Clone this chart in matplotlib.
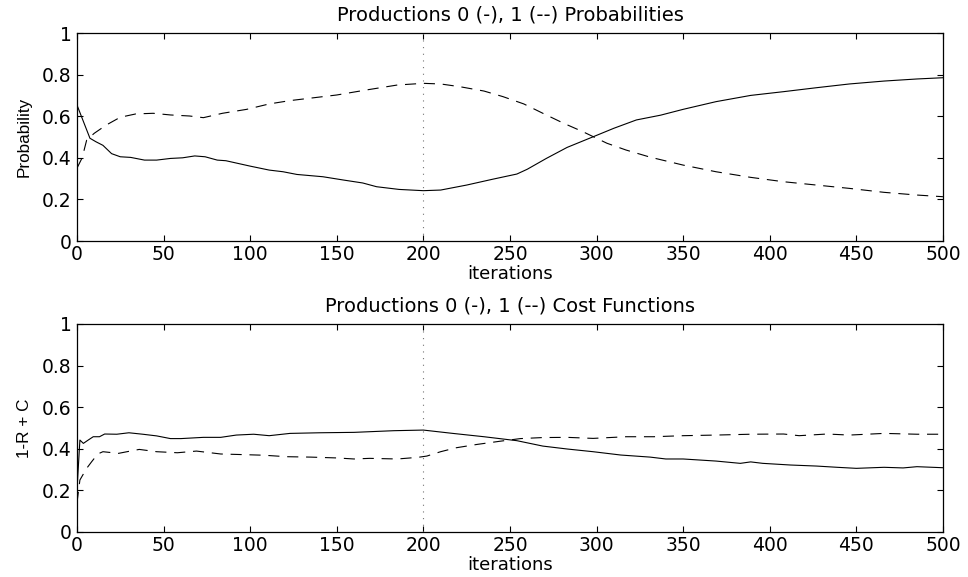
import numpy as np
import matplotlib
matplotlib.use("Agg")
import matplotlib.pyplot as plt
from matplotlib.ticker import FuncFormatter

# olasiliklar (ust grafik)
it_p0 = [0, 3, 7.5, 11, 15, 20, 25, 31, 39, 46, 54, 61, 68, 74, 81, 86, 100, 111, 119, 127,
         142, 154, 165, 173, 186, 200, 210, 225, 240, 254, 260, 271, 283, 298, 310, 323, 337,
         350, 369, 389, 408, 427, 446, 466, 485, 500]
p0 = [0.654, 0.59, 0.494, 0.477, 0.46, 0.42, 0.405, 0.402, 0.389, 0.389, 0.397, 0.40, 0.409,
      0.405, 0.389, 0.386, 0.36, 0.341, 0.333, 0.32, 0.309, 0.293, 0.279, 0.261, 0.248, 0.242,
      0.245, 0.269, 0.297, 0.322, 0.345, 0.397, 0.45, 0.501, 0.542, 0.582, 0.605, 0.633, 0.67,
      0.70, 0.718, 0.737, 0.755, 0.769, 0.779, 0.785]

it_p1 = [0, 3, 5.6, 10, 17, 25, 34, 44, 54, 65, 73, 84, 98, 111, 123, 134, 150, 167, 185, 200,
         210, 221, 235, 246, 258, 269, 281, 292, 306, 317, 331, 350, 369, 389, 408, 427, 446,
         466, 485, 500]
p1 = [0.35, 0.40, 0.485, 0.518, 0.558, 0.595, 0.611, 0.614, 0.606, 0.601, 0.593, 0.614, 0.633,
      0.659, 0.675, 0.686, 0.702, 0.726, 0.75, 0.758, 0.755, 0.742, 0.721, 0.694, 0.659, 0.614,
      0.566, 0.526, 0.47, 0.4375, 0.403, 0.365, 0.333, 0.306, 0.285, 0.269, 0.253, 0.234,
      0.221, 0.213]

# maliyet fonksiyonlari (alt grafik)
it_c0 = [0, 1.7, 3.7, 6.5, 9.4, 13, 16, 23, 30, 38, 46, 54, 60, 73, 83, 92, 102, 111, 123, 140,
         160, 183, 200, 217, 235, 254, 269, 283, 298, 314, 331, 340, 350, 369, 383, 389, 396,
         412, 427, 439, 450, 466, 477, 485, 500]
c0 = [0.20, 0.442, 0.426, 0.442, 0.458, 0.458, 0.471, 0.47, 0.477, 0.47, 0.462, 0.449, 0.449,
      0.455, 0.455, 0.466, 0.47, 0.463, 0.474, 0.477, 0.479, 0.487, 0.49, 0.474, 0.458, 0.439,
      0.413, 0.399, 0.386, 0.37, 0.36, 0.351, 0.351, 0.341, 0.33, 0.337, 0.33, 0.322, 0.317,
      0.311, 0.306, 0.311, 0.308, 0.314, 0.309]

it_c1 = [0, 1.7, 5.6, 8.5, 12, 15, 24, 32, 36, 46, 58, 69, 83, 96, 108, 121, 135, 150, 160, 169,
         185, 197, 202, 210, 219, 231, 244, 256, 269, 283, 298, 317, 333, 350, 369, 389, 408,
         417, 433, 446, 466, 485, 500]
c1 = [0.14, 0.25, 0.306, 0.338, 0.375, 0.386, 0.378, 0.391, 0.397, 0.386, 0.381, 0.389, 0.375,
      0.372, 0.369, 0.362, 0.36, 0.356, 0.351, 0.354, 0.351, 0.359, 0.365, 0.386, 0.405, 0.421,
      0.436, 0.449, 0.454, 0.455, 0.45, 0.458, 0.458, 0.463, 0.466, 0.47, 0.471, 0.463, 0.471,
      0.466, 0.474, 0.47, 0.47]

isaret = 200  # dikey nokta cizgi
x_ticks = list(range(0, 501, 50))
y_ticks = [0, 0.2, 0.4, 0.6, 0.8, 1]

plt.rcParams["font.family"] = "DejaVu Sans"

fig = plt.figure(figsize=(9.68, 5.77), dpi=100)
ax1 = fig.add_axes([0.0795, 0.5823, 0.8946, 0.3605])
ax2 = fig.add_axes([0.0795, 0.078, 0.8946, 0.3605])

def ciz(ax, x0, y0, x1, y1, baslik, ylabel):
    ax.plot(x0, y0, color="k", lw=0.8)
    ax.plot(x1, y1, color="k", lw=0.8, linestyle=(0, (10, 7)))
    ax.plot([isaret, isaret], [0, 1], color="0.45", lw=0.8, linestyle=(0, (1, 5)))
    ax.set_xlim(0, 500)
    ax.set_ylim(0, 1)
    ax.set_xticks(x_ticks)
    ax.set_yticks(y_ticks)
    ax.yaxis.set_major_formatter(FuncFormatter(lambda v, p: "%g" % v))
    ax.tick_params(direction="in", length=4.5, width=0.8, top=True, right=True,
                   labelsize=13.5)
    ax.tick_params(axis="x", pad=3)
    ax.tick_params(axis="y", pad=4)
    for s in ax.spines.values():
        s.set_linewidth(0.9)
    ax.set_title(baslik, fontsize=14, pad=9)
    ax.set_xlabel("iterations", fontsize=13, labelpad=0.5)
    ax.set_ylabel(ylabel, fontsize=12.3, family="Liberation Sans", labelpad=7)

ciz(ax1, it_p0, p0, it_p1, p1, "Productions 0 (-), 1 (--) Probabilities", "Probability")
ciz(ax2, it_c0, c0, it_c1, c1, "Productions 0 (-), 1 (--) Cost Functions", "1-R + C")

fig.savefig("out.png", dpi=100)
